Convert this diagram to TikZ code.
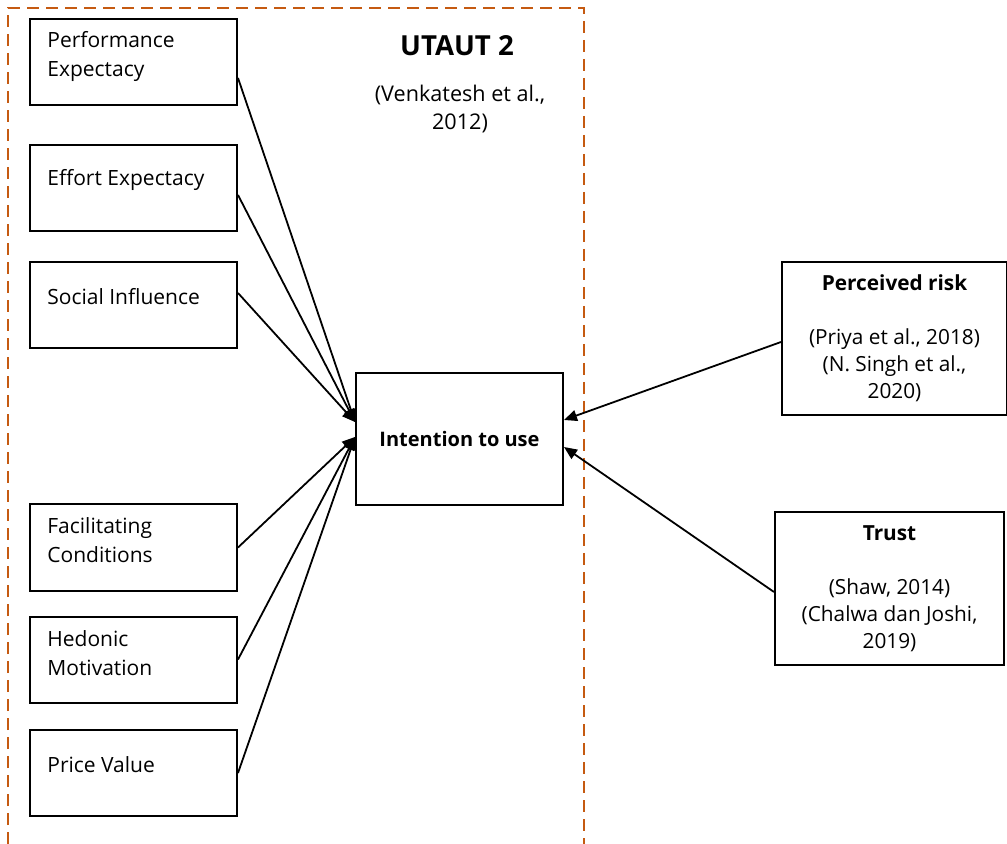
\documentclass[tikz,border=0pt]{standalone}
\usepackage{fontspec}
\setmainfont{Open Sans}
\usetikzlibrary{arrows.meta,calc}
\definecolor{frameorange}{RGB}{197,90,17}
\tikzset{
  factor/.style={draw, line width=1pt, minimum width=103.5pt, minimum height=43pt, inner sep=0pt},
  flabel/.style={anchor=west, align=left, inner sep=0pt, font=\fontsize{10.5}{14.5}\selectfont},
  extbox/.style={draw, line width=1pt, minimum height=76.5pt, inner sep=0pt, align=center, font=\fontsize{10.4}{13.5}\selectfont},
  link/.style={-{Triangle[length=6.5pt,width=5.5pt]}, line width=0.9pt}
}
\begin{document}
\begin{tikzpicture}[x=0.5pt,y=-0.5pt]
    \useasboundingbox (0,0) rectangle (1007,844);
    \draw[frameorange, line width=1pt, dash pattern=on 6pt off 3.5pt] (8,844) -- (8,8) -- (584,8) -- (584,844);
    \node[font=\fontsize{13.8}{16}\selectfont\bfseries] (utaut) at (457,46) {UTAUT 2};
    \node[align=center, font=\fontsize{10.8}{14}\selectfont] (venk) at (460,109) {(Venkatesh et al.,\\2012)};
    % UTAUT 2 constructs
    \node[factor] (pe) at (133.5,62.5) {};
    \node[flabel] (pet) at (47,56.5) {Performance\\Expectacy};
    \node[factor] (ee) at (133.5,188) {};
    \node[flabel] (eet) at (47,180) {Effort Expectacy};
    \node[factor] (si) at (133.5,305) {};
    \node[flabel] (sit) at (47,297) {Social Influence};
    \node[factor] (fc) at (133.5,547.5) {};
    \node[flabel] (fct) at (47,540.5) {Facilitating\\Conditions};
    \node[factor] (hm) at (133.5,659.5) {};
    \node[flabel] (hmt) at (47,653.5) {Hedonic\\Motivation};
    \node[factor] (pv) at (133.5,773) {};
    \node[flabel] (pvt) at (47,765) {Price Value};
    % dependent variable
    \node[draw, line width=1pt, minimum width=103.5pt, minimum height=66pt, font=\fontsize{10}{14}\selectfont\bfseries] (itu) at (459.5,439) {Intention to use};
    % added variables
    \node[extbox, minimum width=112.5pt] (pr) at (894.5,338.5) {\textbf{Perceived risk}\\ \\(Priya et al., 2018)\\(N. Singh et al.,\\2020)};
    \node[extbox, minimum width=114.5pt] (tr) at (889.5,588.5) {\textbf{Trust}\\ \\(Shaw, 2014)\\(Chalwa dan Joshi,\\2019)};
    \coordinate (in1) at ($(itu.west)+(0,-17)$);
    \coordinate (in2) at ($(itu.west)+(0,-2)$);
    \coordinate (in3) at ($(itu.east)+(0,-19)$);
    \coordinate (in4) at ($(itu.east)+(0,8)$);
    \draw[link] ($(pe.east)+(0,15.5)$) -- (in1);
    \draw[link] ($(ee.east)+(0,7)$) -- (in1);
    \draw[link] ($(si.east)+(0,-12)$) -- (in1);
    \draw[link] (fc.east) -- (in2);
    \draw[link] (hm.east) -- (in2);
    \draw[link] (pv.east) -- (in2);
    \draw[link] ($(pr.west)+(0,3.5)$) -- (in3);
    \draw[link] ($(tr.west)+(0,3.5)$) -- (in4);
\end{tikzpicture}
\end{document}
